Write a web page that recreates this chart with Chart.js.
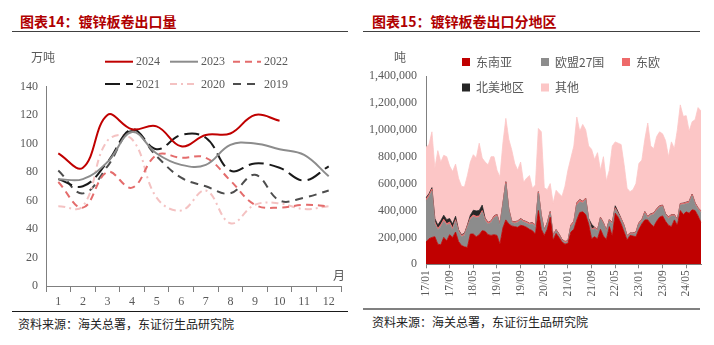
<!DOCTYPE html>
<html><head><meta charset="utf-8">
<script src="https://cdn.jsdelivr.net/npm/chart.js@4.4.1/dist/chart.umd.min.js"></script>
<style>
html,body{margin:0;padding:0;background:#fff;}
#wrap{position:relative;width:714px;height:345px;overflow:hidden;font-family:"Noto Sans CJK SC",sans-serif;}
.title{position:absolute;top:12px;font-size:14px;font-weight:bold;color:#B00000;line-height:18px;white-space:nowrap;}
.rule{position:absolute;height:0;}
.src{position:absolute;font-size:12px;color:#222;line-height:14px;white-space:nowrap;}
canvas{position:absolute;top:0;}
</style></head><body>
<div id="wrap">
 <div class="title" style="left:20px">图表14：镀锌板卷出口量</div>
 <div class="title" style="left:372px">图表15：镀锌板卷出口分地区</div>
 <div class="rule" style="left:12px;width:336px;top:31px;border-top:1.5px solid #404040"></div>
 <div class="rule" style="left:363px;width:337px;top:31px;border-top:1.5px solid #404040"></div>
 <div class="rule" style="left:12px;width:336px;top:311px;border-top:1.5px solid #1a1a1a"></div>
 <div class="rule" style="left:363px;width:337px;top:308px;border-top:2.5px solid #808080"></div>
 <div class="src" style="left:18px;top:317px">资料来源：海关总署，东证衍生品研究院</div>
 <div class="src" style="left:372px;top:315px">资料来源：海关总署，东证衍生品研究院</div>
 <canvas id="c1" width="357" height="310" style="left:0"></canvas>
 <canvas id="c2" width="357" height="310" style="left:357px"></canvas>
</div>
<script>
// ---------- left chart data (万吨) ----------
const months = ['1','2','3','4','5','6','7','8','9','10','11','12'];
const y2024 = [93, 83, 120, 110, 112, 98, 106, 107, 120, 116];
const y2023 = [75, 75, 87, 108, 93, 85, 85, 99, 100, 96, 92, 77];
const y2022 = [73, 55, 80, 69, 92, 90, 90, 74, 57, 55, 57, 56];
const y2021 = [75, 70, 87, 110, 96, 106, 104, 81, 86, 83, 74, 84];
const y2020 = [56, 56, 102, 103, 62, 53, 67, 44, 57, 58, 54, 56];
const y2019 = [81, 65, 84, 109, 91, 76, 70, 65, 78, 60, 62, 67];
const leftTicks = [0, 20, 40, 60, 80, 100, 120, 140];

// ---------- right chart data (吨) ----------
const monthLabels = [
'17/01','17/02','17/03','17/04','17/05','17/06','17/07','17/08','17/09','17/10','17/11','17/12',
'18/01','18/02','18/03','18/04','18/05','18/06','18/07','18/08','18/09','18/10','18/11','18/12',
'19/01','19/02','19/03','19/04','19/05','19/06','19/07','19/08','19/09','19/10','19/11','19/12',
'20/01','20/02','20/03','20/04','20/05','20/06','20/07','20/08','20/09','20/10','20/11','20/12',
'21/01','21/02','21/03','21/04','21/05','21/06','21/07','21/08','21/09','21/10','21/11','21/12',
'22/01','22/02','22/03','22/04','22/05','22/06','22/07','22/08','22/09','22/10','22/11','22/12',
'23/01','23/02','23/03','23/04','23/05','23/06','23/07','23/08','23/09','23/10','23/11','23/12',
'24/01','24/02','24/03','24/04','24/05','24/06','24/07','24/08','24/09','24/10'];
const seaVals = [165000,190000,200000,205000,150000,145000,200000,175000,220000,200000,240000,170000,
140000,130000,125000,225000,225000,205000,220000,250000,245000,220000,215000,220000,
215000,150000,270000,330000,300000,285000,280000,275000,290000,285000,275000,260000,
250000,225000,400000,260000,215000,260000,350000,180000,230000,200000,165000,150000,
155000,240000,260000,330000,385000,390000,370000,300000,190000,205000,190000,260000,
210000,185000,280000,210000,380000,350000,300000,240000,180000,215000,210000,205000,
260000,300000,330000,330000,300000,280000,320000,350000,360000,320000,290000,280000,
330000,290000,400000,370000,390000,380000,405000,400000,360000,310000];
const euVals = [305000,310000,345000,95000,105000,135000,120000,115000,80000,55000,80000,70000,
65000,85000,150000,110000,130000,140000,130000,140000,80000,80000,95000,125000,
145000,140000,170000,270000,100000,25000,25000,35000,40000,30000,30000,35000,
50000,55000,130000,95000,30000,40000,30000,25000,20000,15000,12000,10000,
10000,40000,45000,110000,80000,65000,110000,30000,65000,60000,55000,80000,
90000,60000,40000,90000,30000,20000,30000,40000,25000,10000,15000,25000,
40000,20000,50000,15000,65000,90000,80000,75000,70000,45000,50000,80000,
30000,30000,40000,75000,60000,75000,105000,45000,50000,75000];
const eeVals = [15000,15000,15000,15000,12000,15000,15000,12000,15000,15000,12000,12000,
10000,10000,12000,10000,12000,12000,10000,10000,12000,10000,10000,12000,
10000,8000,10000,12000,10000,8000,10000,10000,8000,8000,10000,8000,
8000,10000,8000,10000,8000,8000,10000,8000,6000,8000,6000,8000,
8000,10000,12000,15000,15000,12000,10000,8000,8000,8000,10000,8000,
8000,8000,10000,8000,10000,8000,8000,8000,6000,6000,6000,8000,
8000,10000,10000,8000,8000,10000,10000,8000,8000,8000,10000,8000,
8000,10000,10000,8000,10000,12000,10000,10000,8000,10000];
const naVals = [10000,10000,10000,25000,25000,30000,30000,30000,25000,30000,25000,5000,
5000,5000,5000,20000,35000,40000,40000,40000,5000,2000,2000,2000,
2000,2000,2000,2000,2000,2000,2000,2000,2000,2000,2000,2000,
2000,2000,2000,2000,2000,2000,2000,2000,2000,2000,2000,2000,
2000,2000,2000,2000,2000,2000,2000,2000,35000,2000,2000,2000,
2000,2000,2000,2000,15000,10000,2000,2000,2000,2000,2000,2000,
2000,2000,2000,2000,2000,2000,2000,2000,2000,2000,2000,2000,
2000,2000,2000,2000,2000,2000,2000,2000,2000,2000];
const otherVals = [375000,365000,415000,375000,553000,435000,445000,468000,390000,390000,388000,383000,
360000,345000,368000,395000,413000,393000,500000,350000,418000,428000,478000,441000,
328000,350000,448000,471000,518000,530000,433000,378000,420000,285000,323000,355000,
255000,298000,470000,618000,315000,245000,208000,240000,292000,300000,320000,410000,
525000,498000,561000,638000,508000,571000,508000,540000,557000,505000,573000,350000,
490000,365000,368000,570000,475000,512000,550000,450000,352000,307000,322000,360000,
440000,443000,538000,695000,505000,478000,538000,550000,530000,545000,448000,540000,
490000,668000,733000,645000,643000,521000,538000,618000,745000,743000];
const rightTickStep = 200000;
const rightMax = 1400000;

Chart.defaults.font.family = '"Liberation Serif", "Times New Roman", serif';
Chart.defaults.font.size = 12;
Chart.defaults.color = '#595959';
Chart.defaults.animation = false;

const CJK = '"Noto Sans CJK SC", sans-serif';
const SERIF = '"Liberation Serif", serif';

// ---------- left chart ----------
const leftSeries = [
  {label:'2024', data:y2024, color:'#C00000', dash:[]},
  {label:'2023', data:y2023, color:'#8C8C8C', dash:[]},
  {label:'2022', data:y2022, color:'#E46C6C', dash:[7,5]},
  {label:'2021', data:y2021, color:'#1A1A1A', dash:[15,6]},
  {label:'2020', data:y2020, color:'#F4C2C2', dash:[7,4,2,4]},
  {label:'2019', data:y2019, color:'#4D4D4D', dash:[8,6]}
];

const leftDecor = {
  id:'leftDecor',
  afterDraw(chart){
    const ctx = chart.ctx;
    const xs=[105,170,233], ys=[61.7,84];
    ctx.save();
    chart.data.datasets.forEach((ds,i)=>{
      const x=xs[i%3], y=ys[Math.floor(i/3)];
      ctx.strokeStyle=ds.borderColor; ctx.lineWidth=2; ctx.setLineDash(ds.borderDash||[]);
      ctx.beginPath(); ctx.moveTo(x,y); ctx.lineTo(x+28,y); ctx.stroke();
      ctx.setLineDash([]);
      ctx.fillStyle='#595959'; ctx.font='12px '+SERIF; ctx.textAlign='left'; ctx.textBaseline='middle';
      ctx.fillText(ds.label, x+31, y+0.5);
    });
    ctx.font='12px '+CJK; ctx.textAlign='center'; ctx.fillStyle='#595959';
    ctx.fillText('万吨', 43, 57);
    ctx.fillText('月', 339, 275);
    ctx.restore();
  }
};

new Chart(document.getElementById('c1'), {
  type:'line',
  data:{
    labels: months,
    datasets: leftSeries.map(s=>({
      label:s.label, data:s.data, borderColor:s.color, backgroundColor:s.color,
      borderDash:s.dash, borderWidth:2, pointRadius:0, tension:0.4, fill:false
    }))
  },
  options:{
    responsive:false, devicePixelRatio:1, animation:false,
    layout:{padding:{top:86.5, right:16, left:0, bottom:0}},
    plugins:{legend:{display:false}, tooltip:{enabled:false}},
    scales:{
      x:{type:'category', offset:true,
         grid:{display:true, offset:true, drawOnChartArea:false, tickLength:6, color:'#7f7f7f'},
         border:{display:true, color:'#7f7f7f', width:1},
         ticks:{padding:3, font:{size:12}, color:'#595959', maxRotation:0, autoSkip:false},
         afterFit:s=>{s.height=24;}},
      y:{min:0, max:140,
         afterBuildTicks:s=>{s.ticks = leftTicks.map(v=>({value:v}));},
         grid:{display:false, drawTicks:false},
         border:{display:true, color:'#7f7f7f', width:1},
         ticks:{padding:8, font:{size:12}, color:'#595959'},
         afterFit:s=>{s.width=46;}}
    }
  },
  plugins:[leftDecor]
});

// ---------- right chart ----------
const rightSeries = [
  {label:'东南亚', data:seaVals, color:'#C00000'},
  {label:'欧盟27国', data:euVals, color:'#8C8C8C'},
  {label:'东欧', data:eeVals, color:'#EE6A6A'},
  {label:'北美地区', data:naVals, color:'#262626'},
  {label:'其他', data:otherVals, color:'#FCC6C6'}
];

const rightDecor = {
  id:'rightDecor',
  afterDraw(chart){
    const ctx = chart.ctx;
    const xs=[105,184,265], ys=[62,87.5];
    ctx.save();
    chart.data.datasets.forEach((ds,i)=>{
      const x=xs[i%3], y=ys[Math.floor(i/3)];
      ctx.fillStyle=ds.backgroundColor; ctx.fillRect(x, y-4, 8, 8);
      ctx.fillStyle='#595959'; ctx.font='12px '+CJK; ctx.textAlign='left'; ctx.textBaseline='middle';
      ctx.fillText(ds.label, x+14, y);
    });
    ctx.font='12px '+CJK; ctx.textAlign='center';
    ctx.fillText('吨', 43, 57);
    ctx.restore();
  }
};

new Chart(document.getElementById('c2'), {
  type:'line',
  data:{
    labels: monthLabels,
    datasets: rightSeries.map((s,i)=>({
      label:s.label, data:s.data, borderColor:s.color, backgroundColor:s.color,
      borderWidth:0.8, pointRadius:0, tension:0, fill: i===0 ? 'origin' : '-1'
    }))
  },
  options:{
    responsive:false, devicePixelRatio:1, animation:false,
    layout:{padding:{top:76, right:13, left:0, bottom:0}},
    plugins:{legend:{display:false}, tooltip:{enabled:false}},
    scales:{
      x:{type:'category', offset:false,
         grid:{display:true, drawOnChartArea:false, tickLength:4, color:'#808080'},
         border:{display:true, color:'#808080', width:1},
         ticks:{autoSkip:false, maxRotation:90, minRotation:90, padding:2, font:{size:11.5}, color:'#595959',
                callback:(v,i)=> (i%8===0 ? monthLabels[i] : null)},
         afterFit:s=>{s.height=45.7;}},
      y:{stacked:true, min:0, max:rightMax,
         grid:{display:false, drawTicks:false},
         border:{display:true, color:'#808080', width:1},
         ticks:{stepSize:rightTickStep, padding:9, font:{size:12}, color:'#595959',
                callback:v=>v.toLocaleString('en-US')},
         afterFit:s=>{s.width=69;}}
    }
  },
  plugins:[rightDecor]
});
</script>
</body></html>
